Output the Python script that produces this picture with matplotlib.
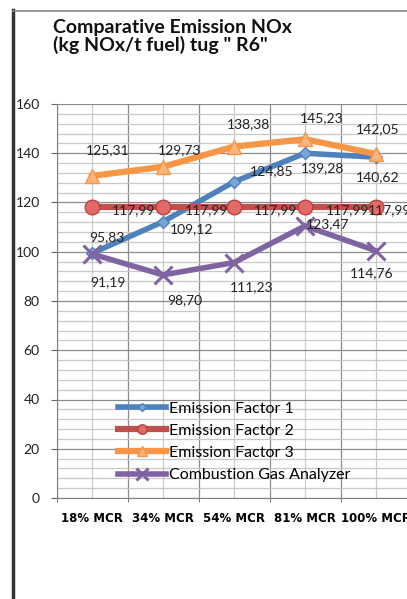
import numpy as np
import matplotlib.pyplot as plt
from matplotlib.lines import Line2D
from matplotlib.ticker import MultipleLocator, FixedLocator

# categories and series (plotted positions as they appear)
categories = ["18% MCR", "34% MCR", "54% MCR", "81% MCR", "100% MCR"]
ef1 = [99.4, 112.2, 128.4, 140.0, 138.4]
ef2 = [117.99, 117.99, 117.99, 117.99, 117.99]
ef3 = [130.8, 134.5, 142.7, 145.7, 139.7]
cga = [99.1, 90.6, 95.6, 110.5, 100.4]

# data label texts as printed on the chart
ef1_lbl = ["95,83", "109,12", "124,85", "139,28", "140,62"]
ef2_lbl = ["117,99", "117,99", "117,99", "117,99", "117,99"]
ef3_lbl = ["125,31", "129,73", "138,38", "145,23", "142,05"]
cga_lbl = ["91,19", "98,70", "111,23", "123,47", "114,76"]

names = ["Emission Factor 1", "Emission Factor 2", "Emission Factor 3",
         "Combustion Gas Analyzer"]

# label offsets in pixels (dx, dy up)
off1 = [(15, 16), (29, -7), (38, 11), (18, -15), (2, -20)]
off2 = [(20, -3), (22, -3), (20, -3), (21, -3), (-8, -3)]
off3 = [(16, 26), (17, 17), (14, 22), (17, 21), (2, 25)]
off4 = [(16, -28), (22, -25), (18, -25), (23, 2), (-4, -22)]

W, H = 407, 599
fig = plt.figure(figsize=(W/100, H/100), dpi=100)
ax = fig.add_axes([56.5/W, 101/H, 355/W, 394/H])

x = np.arange(len(categories))
styles = [
    dict(color="#4F81BD", marker="D", ms=6.5, mfc="#7aa3d8", mec="#4F81BD", lw=4),
    dict(color="#C0504D", marker="o", ms=10.5, mfc="#e06a66", mec="#b8413e", lw=4.5),
    dict(color="#F79646", marker="^", ms=10.5, mfc="#fbb57c", mec="#F79646", lw=4.5),
    dict(color="#8064A2", marker="x", ms=13, mew=2.2, mec="#8064A2", lw=4),
]
series = [ef1, ef2, ef3, cga]
labels = [ef1_lbl, ef2_lbl, ef3_lbl, cga_lbl]
offsets = [off1, off2, off3, off4]

for i in range(4):
    ax.plot(x, series[i], label=names[i], zorder=3 + i * 0.1, **styles[i])

for i in range(4):
    for j in range(len(x)):
        dx, dy = offsets[i][j]
        ax.annotate(labels[i][j], (x[j], series[i][j]), xytext=(dx, dy),
                    textcoords="offset pixels", ha="left" if i == 1 else "center",
                    va="center", fontsize=10, family="Lato", color="#222222",
                    zorder=5)

ax.set_xlim(-0.5, 4.5)
ax.set_ylim(0, 160)
ax.yaxis.set_major_locator(MultipleLocator(20))
ax.yaxis.set_minor_locator(MultipleLocator(4))
ax.xaxis.set_major_locator(FixedLocator(x))
ax.xaxis.set_minor_locator(FixedLocator(np.arange(-0.5, 5, 1)))
ax.set_xticklabels(categories, fontsize=8.5, fontweight="bold", family="DejaVu Sans")

ax.grid(which="major", axis="y", color="#8c8c8c", lw=0.9)
ax.grid(which="minor", axis="y", color="#c8c8c8", lw=0.9)
ax.grid(which="minor", axis="x", color="#8c8c8c", lw=0.9)
ax.grid(which="major", axis="x", color="#c8c8c8", lw=0.9)
ax.set_axisbelow(True)

ax.tick_params(axis="y", which="major", length=4, color="#666666", pad=8,
               labelsize=10)
ax.tick_params(axis="y", which="minor", length=0)
ax.tick_params(axis="x", which="major", length=0, pad=10)
ax.tick_params(axis="x", which="minor", length=3, color="#666666")
for lab in ax.get_yticklabels():
    lab.set_family("Lato")
    lab.set_color("#222222")

for s in ["top", "right"]:
    ax.spines[s].set_visible(False)
ax.spines["left"].set_color("#808080")
ax.spines["bottom"].set_color("#808080")

leg = ax.legend(loc="upper left", bbox_to_anchor=(0.173, 0.245), frameon=False,
                prop={"family": "Lato", "size": 11.5}, numpoints=1,
                handlelength=3.0, handletextpad=0.2, labelspacing=0.5,
                borderpad=0, borderaxespad=0, markerscale=0.65)

fig.text(53/W, 1 - 19/H, 'Comparative Emission NOx\n(kg NOx/t fuel) tug " R6"',
         ha="left", va="top", fontsize=14, fontweight="bold", family="Lato",
         linespacing=1.0, color="#111111")

# chart area border
fig.add_artist(Line2D([13.5/W, 13.5/W], [0, 1 - 10/H], transform=fig.transFigure,
                      color="#333333", lw=2.5))
fig.add_artist(Line2D([13/W, 1], [1 - 10.5/H, 1 - 10.5/H], transform=fig.transFigure,
                      color="#888888", lw=1.2))

fig.savefig("out.png", dpi=100)
